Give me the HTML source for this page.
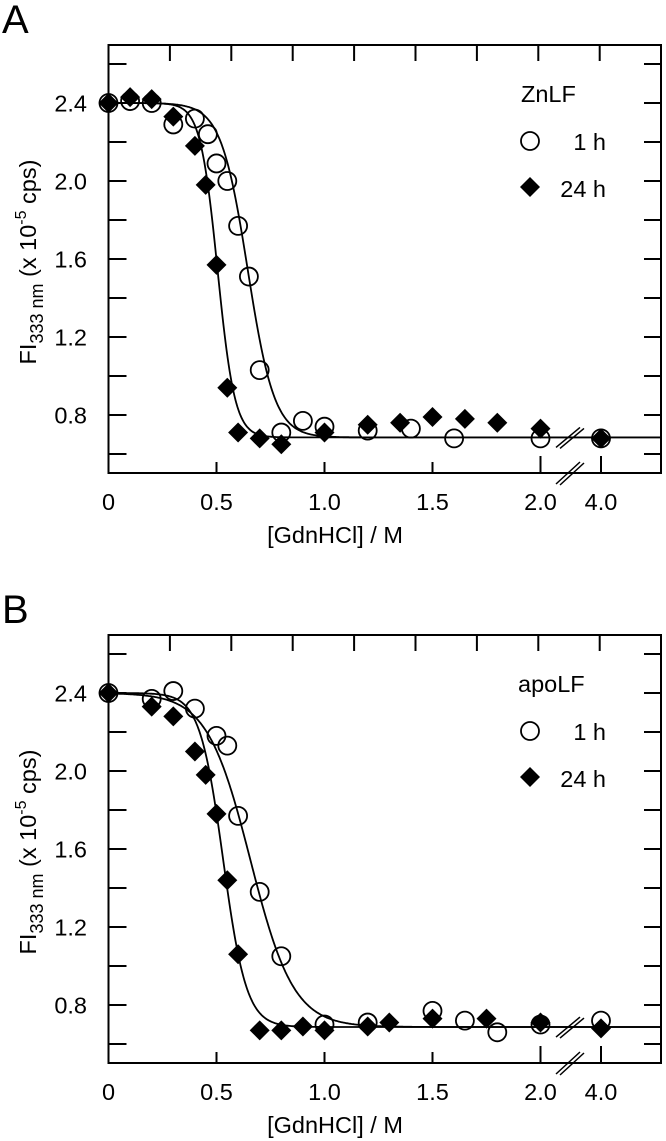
<!DOCTYPE html>
<html><head><meta charset="utf-8">
<style>
html,body{margin:0;padding:0;background:#fff;}
svg{display:block;font-family:"Liberation Sans",Arial,sans-serif;}
</style></head>
<body>
<svg id="fig" width="666" height="1141" viewBox="0 0 666 1141" xmlns="http://www.w3.org/2000/svg"></svg>
<script>
// ---- data ----
const xTickLabels = ["0","0.5","1.0","1.5","2.0","4.0"];
const xTickValues = [0,0.5,1.0,1.5,2.0,4.0];
const yTickLabels = ["2.4","2.0","1.6","1.2","0.8"];
const yTickValues = [2.4,2.0,1.6,1.2,0.8];
const yMinorValues = [2.6,2.2,1.8,1.4,1.0,0.6];

const aX1h = [0,0.1,0.2,0.3,0.4,0.46,0.5,0.55,0.6,0.65,0.7,0.8,0.9,1.0,1.2,1.4,1.6,2.0,4.0];
const aY1h = [2.40,2.41,2.40,2.29,2.32,2.24,2.09,2.00,1.77,1.51,1.03,0.71,0.77,0.74,0.72,0.73,0.68,0.68,0.68];
const aX24h = [0,0.1,0.2,0.3,0.4,0.45,0.5,0.55,0.6,0.7,0.8,1.0,1.2,1.35,1.5,1.65,1.8,2.0,4.0];
const aY24h = [2.40,2.43,2.42,2.33,2.18,1.98,1.57,0.94,0.71,0.68,0.65,0.71,0.75,0.76,0.79,0.78,0.76,0.73,0.68];
const aFit1h = {top:2.40, base:0.685, mid:0.645, w:0.062};
const aFit24h = {top:2.40, base:0.685, mid:0.505, w:0.040};

const bX1h = [0,0.2,0.3,0.4,0.5,0.55,0.6,0.7,0.8,1.0,1.2,1.5,1.65,1.8,2.0,4.0];
const bY1h = [2.40,2.37,2.41,2.32,2.18,2.13,1.77,1.38,1.05,0.70,0.71,0.77,0.72,0.66,0.70,0.72];
const bX24h = [0,0.2,0.3,0.4,0.45,0.5,0.55,0.6,0.7,0.8,0.9,1.0,1.2,1.3,1.5,1.75,2.0,4.0];
const bY24h = [2.40,2.33,2.28,2.10,1.98,1.78,1.44,1.06,0.67,0.67,0.69,0.67,0.69,0.71,0.73,0.73,0.71,0.68];
const bFit1h = {top:2.40, base:0.687, mid:0.657, w:0.100};
const bFit24h = {top:2.40, base:0.687, mid:0.531, w:0.054};

// ---- drawing ----
const NS="http://www.w3.org/2000/svg";
const svg=document.getElementById('fig');
function mk(tag,attrs,parent){const e=document.createElementNS(NS,tag);for(const k in attrs)e.setAttribute(k,attrs[k]);(parent||svg).appendChild(e);return e;}

const L=108.5,R=661,TOP0=45,BOT0=473,FS='font-size:23.5px';
function xs(v){ if(v<=2.0) return L+v*216; return 540+(v-2.0)*30.5; }

function panel(off,letter,legendName,x1,y1,x24,y24,f1,f24){
  const g=mk('g',{});
  
  
  const ys=v=>off+103+(2.4-v)*195;
  const T=off+TOP0,B=off+BOT0;
  const lt=mk('text',{x:2,y:off+33,style:'font-size:40px'},g); lt.textContent=letter;
  
  
  const fr=mk('rect',{x:L,y:T,width:R-L,height:B-T,fill:'none',stroke:'#000','stroke-width':2},g);
  
  
  for(let i=1;i<=8;i++){const x=L+i*61.4;const t=mk('line',{x1:x,x2:x,y1:T,y2:T+16,stroke:'#000','stroke-width':2},g);
    
    }
  const ya=mk('g',{},g);
  
  
  yTickValues.concat(yMinorValues).forEach(v=>{const y=ys(v);
    mk('line',{x1:L,x2:L+18,y1:y,y2:y,stroke:'#000','stroke-width':2},ya);
    mk('line',{x1:R,x2:R-17,y1:y,y2:y,stroke:'#000','stroke-width':2},ya);});
  yTickLabels.forEach((s,i)=>{const t=mk('text',{x:87,y:ys(yTickValues[i])+8.5,style:FS,'text-anchor':'end'},ya);t.textContent=s;
    
    });
  const xa=mk('g',{},g);
  
  
  xTickValues.forEach((v,i)=>{const x=xs(v);
    if(v>0){const len=v>=2?17:11;mk('line',{x1:x,x2:x,y1:B,y2:B-len,stroke:'#000','stroke-width':2},xa);}
    const t=mk('text',{x:x,y:B+37,style:FS,'text-anchor':'middle'},xa);t.textContent=xTickLabels[i];
    
    });
  const xt=mk('text',{x:335,y:B+70,style:FS,'text-anchor':'middle'},g);xt.textContent='[GdnHCl] / M';
  
  
  const yt=mk('text',{transform:`translate(36,${off+262}) rotate(-90)`,style:FS,'text-anchor':'middle'},g);
  
  
  yt.innerHTML='FI<tspan style="font-size:18px" dy="7">333 nm</tspan><tspan dy="-7"> (x 10</tspan><tspan style="font-size:16px" dy="-10">-5</tspan><tspan dy="10"> cps)</tspan>';
  function fitPath(f){let d='';for(let px=L;px<=R;px+=1){let xv=px<=540?(px-L)/216:2.0+(px-540)/30.5;
      const fr=1/(1+Math.exp(-(xv-f.mid)/f.w));const v=f.top-(f.top-f.base)*fr;d+=(d?'L':'M')+px.toFixed(1)+','+ys(v).toFixed(1);}return d;}
  [f1,f24].forEach((f,i)=>{const p=mk('path',{d:fitPath(f),fill:'none',stroke:'#000','stroke-width':1.8},g);
    
    });
  const s1=mk('g',{},g);
  
  
  x1.forEach((xv,i)=>{const c=mk('circle',{cx:xs(xv),cy:ys(y1[i]),r:9,fill:'none',stroke:'#000','stroke-width':1.8},s1);
    
    });
  const s2=mk('g',{},g);
  
  
  x24.forEach((xv,i)=>{const x=xs(xv),y=ys(y24[i]),h=10;
    const d=mk('path',{d:`M${x},${y-h}L${x+h},${y}L${x},${y+h}L${x-h},${y}Z`,fill:'#000'},s2);
    
    });
  const bk=mk('g',{stroke:'#000','stroke-width':1.5},g);
  
  
  const by=ys(f1.base);
  [[by+10,by-10],[B+11,B-11]].forEach(([p1,p2])=>{
    mk('line',{x1:556,y1:p1,x2:580,y2:p2},bk);
    mk('line',{x1:560,y1:p1+1,x2:584,y2:p2+1},bk);});
  const lg=mk('g',{},g);
  
  
  const ln=mk('text',{x:legendName==='ZnLF'?521:518,y:off+102,style:FS},lg);ln.textContent=legendName;
  
  
  mk('circle',{cx:530,cy:off+141,r:9,fill:'none',stroke:'#000','stroke-width':1.8},lg);
  const l1=mk('text',{x:606,y:off+150,style:FS,'text-anchor':'end'},lg);l1.textContent='1 h';
  
  
  mk('path',{d:`M530,${off+177}L540,${off+187}L530,${off+197}L520,${off+187}Z`,fill:'#000'},lg);
  const l2=mk('text',{x:606,y:off+197,style:FS,'text-anchor':'end'},lg);l2.textContent='24 h';
  
  
}
panel(0,'A','ZnLF',aX1h,aY1h,aX24h,aY24h,aFit1h,aFit24h);
panel(590,'B','apoLF',bX1h,bY1h,bX24h,bY24h,bFit1h,bFit24h);
</script>
</body></html>
